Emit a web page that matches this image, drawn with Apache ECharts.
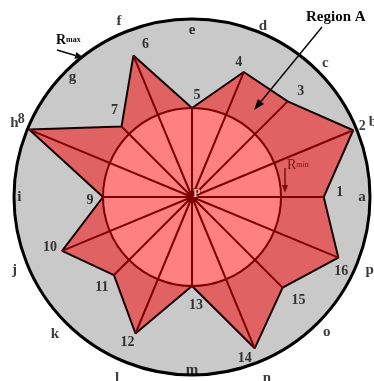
<!DOCTYPE html>
<html>
<head>
<meta charset="utf-8">
<script src="https://cdn.jsdelivr.net/npm/echarts@6/dist/echarts.min.js"></script>
<style>
  html, body { margin: 0; padding: 0; background: #fff; }
  #chart { width: 374px; height: 381px; }
</style>
</head>
<body>
<div id="chart"></div>
<script>
// Vertex numbers, their directions (degrees, counter-clockwise from +x) and radii.
const vertexNames = ['1', '2', '3', '4', '5', '6', '7', '8', '9', '10', '11', '12', '13', '14', '15', '16'];
const vertexAngles = [0, 22.5, 45, 67.5, 90, 112.5, 135, 157.5, 180, 202.5, 225, 247.5, 270, 292.5, 315, 337.5];
const vertexRadii = [74, 98, 76, 76, 50, 86, 56, 99, 50, 79, 62, 83, 50, 92, 72, 89];
// Sector letters around the boundary circle.
const sectorLetters = ['a', 'b', 'c', 'd', 'e', 'f', 'g', 'h', 'i', 'j', 'k', 'l', 'm', 'n', 'o', 'p'];
const R_MIN = 50;
const R_MAX = 100;

// Layout tables (pixels / radius units) for the annotations.
const numberOffsets = [[16, -5], [9, -4], [13, -10], [-5, -10], [5, -13], [12, -11], [-7, -16], [-8, -10],
                       [-13, 3], [-12, -3], [-12, 12], [-8, 9], [4, 19], [-10, 10], [16, 13], [3, 14]];
const letterRadius = [95.5, 110, 106, 104, 94, 107, 95, 108, 97, 108, 109, 110, 97, 110, 107, 108];

const CX = 192, CY = 197, RADIUS_PX = 178;
const SERIF = '"Liberation Serif", "DejaVu Serif", serif';

const chart = echarts.init(document.getElementById('chart'), null, { renderer: 'canvas' });

// Closed outline: repeat the first vertex at a full turn.
const outline = vertexRadii.map((r, i) => [r, vertexAngles[i]]);
outline.push([vertexRadii[0], 360]);

// Spokes: centre -> vertex -> centre -> next vertex ...
const spokes = [];
vertexRadii.forEach((r, i) => { spokes.push([0, vertexAngles[i]]); spokes.push([r, vertexAngles[i]]); });

const numberData = vertexRadii.map((r, i) => ({
  value: [r, vertexAngles[i]],
  name: vertexNames[i],
  label: { offset: numberOffsets[i] }
}));
const letterData = sectorLetters.map((s, i) => ({
  value: [letterRadius[i], vertexAngles[i]],
  name: s
}));

chart.setOption({
  animation: false,
  polar: { center: [CX, CY], radius: RADIUS_PX },
  angleAxis: {
    type: 'value', min: 0, max: 360, startAngle: 0, clockwise: false,
    axisLine: { show: false }, axisTick: { show: false }, axisLabel: { show: false }, splitLine: { show: false }
  },
  radiusAxis: {
    type: 'value', min: 0, max: R_MAX,
    axisLine: { show: false }, axisTick: { show: false }, axisLabel: { show: false }, splitLine: { show: false }
  },
  series: [
    {
      // boundary circle R_max
      type: 'pie', silent: true, z: 0,
      center: [CX, CY], radius: [0, RADIUS_PX],
      label: { show: false }, labelLine: { show: false },
      itemStyle: { color: '#c9c9c9', borderColor: '#000', borderWidth: 3 },
      data: [{ value: 1 }]
    },
    {
      // region A polygon
      type: 'line', coordinateSystem: 'polar', z: 2, silent: true,
      symbol: 'none', smooth: false,
      lineStyle: { color: '#140000', width: 2 },
      areaStyle: { color: '#e06262', opacity: 1 },
      data: outline
    },
    {
      // inner circle R_min
      type: 'pie', silent: true, z: 3,
      center: [CX, CY], radius: [0, RADIUS_PX * R_MIN / R_MAX],
      label: { show: false }, labelLine: { show: false },
      itemStyle: { color: '#ff8080', borderColor: '#7d0000', borderWidth: 2 },
      data: [{ value: 1 }]
    },
    {
      type: 'line', coordinateSystem: 'polar', z: 4, silent: true,
      symbol: 'none',
      lineStyle: { color: '#7d0000', width: 2 },
      data: spokes
    },
    {
      type: 'scatter', coordinateSystem: 'polar', z: 5, silent: true, clip: false,
      symbolSize: 0,
      label: {
        show: true, position: 'inside', formatter: '{b}',
        fontFamily: SERIF, fontWeight: 'bold', fontSize: 14, color: '#0a0a0a'
      },
      data: numberData
    },
    {
      type: 'scatter', coordinateSystem: 'polar', z: 5, silent: true, clip: false,
      symbolSize: 0,
      label: {
        show: true, position: 'inside', formatter: '{b}',
        fontFamily: SERIF, fontWeight: 'bold', fontSize: 15, color: '#0a0a0a'
      },
      data: letterData
    }
  ]
});

function arrow(x1, y1, x2, y2, color, len, half) {
  const dx = x2 - x1, dy = y2 - y1, L = Math.hypot(dx, dy);
  const ux = dx / L, uy = dy / L;
  const bx = x2 - ux * len, by = y2 - uy * len;
  return [
    { type: 'line', shape: { x1, y1, x2: bx, y2: by }, style: { stroke: color, lineWidth: 1.5 }, z: 10 },
    { type: 'polygon', shape: { points: [[x2, y2], [bx - uy * half, by + ux * half], [bx + uy * half, by - ux * half]] },
      style: { fill: color }, z: 10 }
  ];
}

chart.setOption({
  graphic: [
    { type: 'text', x: 306, y: 17, z: 10,
      style: { text: 'Region A', font: 'bold 15px ' + SERIF, fill: '#0a0a0a', verticalAlign: 'middle' } },
    ...arrow(322, 27, 254, 110, '#0a0a0a', 11, 4),
    { type: 'text', x: 56, y: 47, z: 10,
      style: {
        text: '{r|R}{s|max}', verticalAlign: 'bottom',
        rich: {
          r: { font: 'bold 14px ' + SERIF, fill: '#0a0a0a' },
          s: { font: 'bold 8px ' + SERIF, fill: '#0a0a0a' }
        }
      } },
    ...arrow(57, 50, 84, 58, '#0a0a0a', 9, 3.5),
    { type: 'text', x: 287, y: 172, z: 10,
      style: {
        text: '{r|R}{s|min}', verticalAlign: 'bottom',
        rich: {
          r: { font: '14px ' + SERIF, fill: '#7a1010' },
          s: { font: '8px ' + SERIF, fill: '#7a1010' }
        }
      } },
    ...arrow(285, 168, 285, 193, '#7a1010', 8, 3),
    { type: 'text', x: 197, y: 194, z: 10,
      style: { text: 'P', font: 'bold 12px ' + SERIF, fill: '#ffc4c4', stroke: '#7d0000', lineWidth: 1,
               align: 'center', verticalAlign: 'middle' } }
  ]
});
</script>
</body>
</html>
